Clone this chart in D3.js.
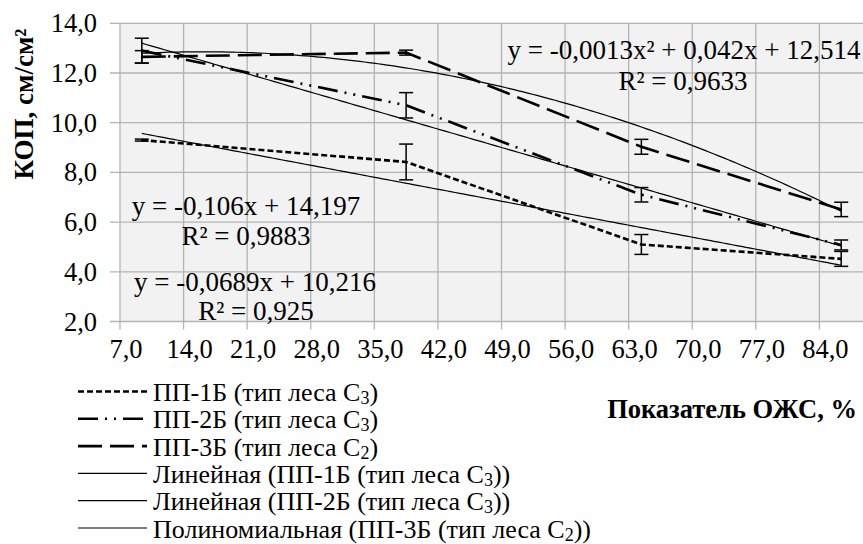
<!DOCTYPE html>
<html>
<head>
<meta charset="utf-8">
<script src="https://cdn.jsdelivr.net/npm/d3@7"></script>
<style>
  body { margin: 0; background: #fff; }
  svg text { font-family: "Times New Roman", "Liberation Serif", serif; fill: #000; }
</style>
</head>
<body>
<svg id="chart" width="863" height="544"></svg>
<script>
// measured points (x = ОЖС, %)
const xVals = [9.4, 38.5, 64.4, 86.4];
const pp1 = [9.3, 8.42, 5.1, 4.52];
const pp1Err = [0.04, 0.72, 0.4, 0.3];
const pp2 = [12.9, 10.7, 7.1, 5.08];
const pp2Err = [0.5, 0.51, 0.29, 0.2];
const pp3 = [12.65, 12.82, 9.03, 6.51];
const pp3Err = [0.25, 0.1, 0.3, 0.29];

// trend line coefficients, as printed on the chart
const lin1 = [-0.0689, 10.216];
const lin2 = [-0.106, 14.197];
const poly3 = [-0.0013, 0.042, 12.514];

const xTicks = [7, 14, 21, 28, 35, 42, 49, 56, 63, 70, 77, 84];
const yTicks = [2, 4, 6, 8, 10, 12, 14];

const legendLabels = [
  ["ПП-1Б (тип леса С", "3", ")"],
  ["ПП-2Б (тип леса С", "3", ")"],
  ["ПП-3Б (тип леса С", "2", ")"],
  ["Линейная (ПП-1Б (тип леса С", "3", "))"],
  ["Линейная (ПП-2Б (тип леса С", "3", "))"],
  ["Полиномиальная (ПП-3Б (тип леса С", "2", "))"]
];

const fmt = d => d.toFixed(1).replace(".", ",");

const svg = d3.select("#chart");
const plotL = 120, plotR = 863, plotT = 23.3, plotB = 321.5;

const x = d3.scaleLinear().domain([7, 88.8]).range([plotL, plotR]);
const y = d3.scaleLinear().domain([2, 14]).range([plotB, plotT]);

// plot background
svg.append("rect")
  .attr("x", plotL).attr("y", plotT)
  .attr("width", plotR - plotL).attr("height", plotB - plotT)
  .attr("fill", "#f2f2f2");

// grid
const gridColor = "#b3b3b3";
svg.append("g").selectAll("line").data(yTicks).join("line")
  .attr("x1", plotL - 10).attr("x2", plotR)
  .attr("y1", d => y(d)).attr("y2", d => y(d))
  .attr("stroke", gridColor).attr("stroke-width", 1.3);
svg.append("g").selectAll("line").data(xTicks).join("line")
  .attr("x1", d => x(d)).attr("x2", d => x(d))
  .attr("y1", plotT).attr("y2", plotB + 8)
  .attr("stroke", gridColor).attr("stroke-width", 1.3);

// tick labels
svg.append("g").selectAll("text").data(yTicks).join("text")
  .attr("x", 97).attr("y", d => y(d) + 9)
  .attr("text-anchor", "end")
  .attr("font-size", 26.5)
  .text(fmt);
svg.append("g").selectAll("text").data(xTicks).join("text")
  .attr("x", d => x(d) + 6).attr("y", 358)
  .attr("text-anchor", "middle")
  .attr("font-size", 26.5)
  .text(fmt);

// axis titles
svg.append("text")
  .attr("transform", "translate(33,104) rotate(-90)")
  .attr("text-anchor", "middle")
  .attr("font-size", 27).attr("font-weight", "bold")
  .text("КОП, см/см²");
svg.append("text")
  .attr("x", 857).attr("y", 418)
  .attr("text-anchor", "end")
  .attr("font-size", 26.5).attr("font-weight", "bold")
  .text("Показатель ОЖС, %");

// trend lines
const xr = d3.range(xVals[0], xVals[3] + 0.01, 0.5);
const line = d3.line().x(d => x(d[0])).y(d => y(d[1]));
const trends = [
  xr.map(v => [v, lin1[0] * v + lin1[1]]),
  xr.map(v => [v, lin2[0] * v + lin2[1]]),
  xr.map(v => [v, poly3[0] * v * v + poly3[1] * v + poly3[2]])
];
svg.append("g").selectAll("path").data(trends).join("path")
  .attr("d", line)
  .attr("fill", "none").attr("stroke", "#000").attr("stroke-width", 1.2);

// data series
const dashes = ["6,3", "20,7,2,7,2,7", "24,8"];
const series = [pp1, pp2, pp3].map((s, i) => ({
  pts: s.map((v, j) => [xVals[j], v]),
  err: [pp1Err, pp2Err, pp3Err][i],
  dash: dashes[i]
}));
svg.append("g").selectAll("path").data(series).join("path")
  .attr("d", d => line(d.pts))
  .attr("fill", "none").attr("stroke", "#000")
  .attr("stroke-width", 2.6)
  .attr("stroke-dasharray", d => d.dash);

// error bars
const eb = svg.append("g").attr("stroke", "#000").attr("stroke-width", 1.5);
series.forEach(s => {
  s.pts.forEach((p, j) => {
    const e = s.err[j];
    const cx = x(p[0]);
    eb.append("line").attr("x1", cx).attr("x2", cx)
      .attr("y1", y(p[1] + e)).attr("y2", y(p[1] - e));
    [p[1] + e, p[1] - e].forEach(v => {
      eb.append("line").attr("x1", cx - 7).attr("x2", cx + 7)
        .attr("y1", y(v)).attr("y2", y(v));
    });
  });
});

// equation labels
const eqs = [
  {x: 684, y: 59, t: "y = -0,0013x² + 0,042x + 12,514"},
  {x: 683, y: 90, t: "R² = 0,9633"},
  {x: 246, y: 215, t: "y = -0,106x + 14,197"},
  {x: 246, y: 245, t: "R² = 0,9883"},
  {x: 255, y: 291, t: "y = -0,0689x + 10,216"},
  {x: 256, y: 320, t: "R² = 0,925"}
];
svg.append("g").selectAll("text").data(eqs).join("text")
  .attr("x", d => d.x).attr("y", d => d.y)
  .attr("text-anchor", "middle")
  .attr("font-size", 27)
  .text(d => d.t);

// legend
const lg = svg.append("g");
const legendDash = [dashes[0], dashes[1], dashes[2], null, null, null];
legendLabels.forEach((lab, i) => {
  const ly = 391.5 + i * 27.3;
  lg.append("line")
    .attr("x1", 78).attr("x2", 147).attr("y1", ly).attr("y2", ly)
    .attr("stroke", "#000")
    .attr("stroke-width", i < 3 ? 2.6 : 1.2)
    .attr("stroke-dasharray", legendDash[i]);
  const t = lg.append("text").attr("x", 153).attr("y", ly + 9.5).attr("font-size", 26);
  t.append("tspan").text(lab[0]);
  t.append("tspan").attr("font-size", 18).attr("dy", 3).text(lab[1]);
  t.append("tspan").attr("dy", -3).text(lab[2]);
});
</script>
</body>
</html>
